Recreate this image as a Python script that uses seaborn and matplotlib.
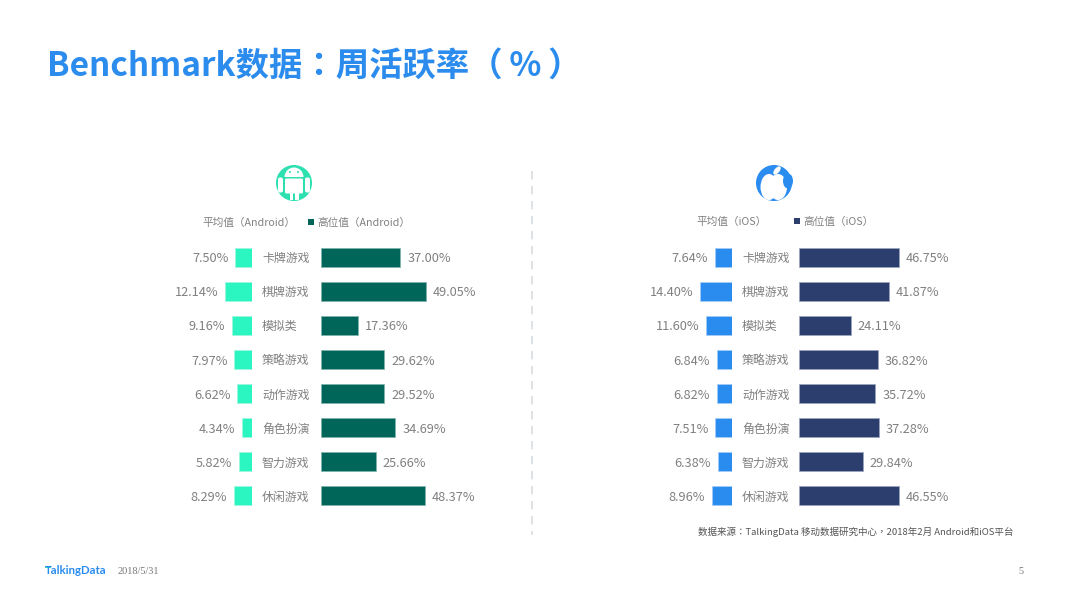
import matplotlib
matplotlib.use('Agg')
import matplotlib.pyplot as plt
from matplotlib.patches import Circle, Ellipse, Rectangle, FancyBboxPatch, Wedge
import pandas as pd
import seaborn as sns

sns.set_theme(style='white')
plt.rcParams['font.family'] = ['Noto Sans CJK SC', 'DejaVu Sans']
FONTE_TC = ['Noto Sans CJK TC', 'DejaVu Sans']

# data
categorias = ['卡牌游戏', '棋牌游戏', '模拟类', '策略游戏', '动作游戏', '角色扮演', '智力游戏', '休闲游戏']
android_media = [7.50, 12.14, 9.16, 7.97, 6.62, 4.34, 5.82, 8.29]
android_alto = [37.00, 49.05, 17.36, 29.62, 29.52, 34.69, 25.66, 48.37]
ios_media = [7.64, 14.40, 11.60, 6.84, 6.82, 7.51, 6.38, 8.96]
ios_alto = [46.75, 41.87, 24.11, 36.82, 35.72, 37.28, 29.84, 46.55]

W, H = 1066, 599
ESCALA_ALTO = 2.14  # px por ponto percentual
ESCALA_MEDIA = 2.22
CINZA = '#808080'
fig = plt.figure(figsize=(W / 100, H / 100), dpi=100, facecolor='white')

# camada de fundo em pixels, para textos soltos e icones
bg = fig.add_axes([0, 0, 1, 1])
bg.set_xlim(0, W)
bg.set_ylim(H, 0)
bg.axis('off')


def eixo(x_ini, x_fim, y_ini=240, y_fim=513):
    ax = fig.add_axes([x_ini / W, 1 - y_fim / H, (x_fim - x_ini) / W, (y_fim - y_ini) / H])
    ax.patch.set_alpha(0)
    return ax


def rotulos(ax, valores):
    textos = ax.bar_label(ax.containers[0], labels=[f'{v:.2f}%' for v in valores], padding=5,
                          fontsize=9.2, color=CINZA)
    # os numeros ficam um pouco abaixo do centro da barra
    for t in textos:
        t.xyann = (t.xyann[0], t.xyann[1] - 1.2)


def painel(media, alto, cor_media, cor_alto, borda_media, borda_alto, x_media, x_alto, pad_cat):
    # barras do valor medio, crescem para a esquerda
    ax1 = eixo(x_media - 60 * ESCALA_MEDIA, x_media)
    df1 = pd.DataFrame({'cat': categorias, 'valor': media})
    sns.barplot(data=df1, x='valor', y='cat', order=categorias, orient='h', color=cor_media,
                saturation=1, width=0.56, edgecolor=borda_media, linewidth=0.5, ax=ax1)
    ax1.set_xlim(60, 0)
    ax1.set_yticks([])
    rotulos(ax1, media)

    # barras do valor alto
    ax2 = eixo(x_alto, x_alto + 60 * ESCALA_ALTO)
    df2 = pd.DataFrame({'cat': categorias, 'valor': alto})
    sns.barplot(data=df2, x='valor', y='cat', order=categorias, orient='h', color=cor_alto,
                saturation=1, width=0.56, edgecolor=borda_alto, linewidth=0.5, ax=ax2)
    ax2.set_xlim(0, 60)
    ax2.set_yticks(range(len(categorias)))
    ax2.set_yticklabels(categorias, fontsize=8.6, color=CINZA, ha='left')
    ax2.tick_params(axis='y', length=0, pad=pad_cat * 0.72)
    rotulos(ax2, alto)

    for ax in (ax1, ax2):
        ax.set_xticks([])
        ax.set_xlabel('')
        ax.set_ylabel('')
        sns.despine(ax=ax, left=True, bottom=True)


painel(android_media, android_alto, '#2BF5C0', '#00665A', '#9ff5de', '#7fb3ac', 252, 321, 59)
painel(ios_media, ios_alto, '#2B8CF0', '#2C3E6E', '#a5cdf7', '#9aa5c0', 732, 799, 57)

# titulo
bg.text(47, 66, 'Benchmark数据：周活跃率（\u2009%\u2009）', fontsize=24, fontweight='bold',
        color='#2B8CEE', va='center', ha='left', family=FONTE_TC)

# legendas
bg.text(202, 223, '平均值（Android）', fontsize=7.7, color=CINZA, va='center')
bg.add_patch(Rectangle((308, 219), 6, 6, color='#00665A', lw=0))
bg.text(317, 223, '高位值（Android）', fontsize=7.7, color=CINZA, va='center')
bg.text(696, 222, '平均值（iOS）', fontsize=7.7, color=CINZA, va='center')
bg.add_patch(Rectangle((794, 218), 6, 6, color='#2C3E6E', lw=0))
bg.text(803, 222, '高位值（iOS）', fontsize=7.7, color=CINZA, va='center')

# divisor tracejado
bg.plot([532, 532], [171, 535], color='#d9dde0', lw=1.2, ls=(0, (5, 4)))

# icone Android
verde = '#2CE0B0'
bg.add_patch(Circle((294, 183), 18, color=verde, lw=0))
bg.add_patch(Wedge((294, 177), 9.5, 180, 360, color='white', lw=0))
bg.add_patch(FancyBboxPatch((285, 178.5), 18, 15, boxstyle='round,pad=0,rounding_size=1.5', color='white', lw=0))
bg.add_patch(FancyBboxPatch((278, 177.5), 5, 15, boxstyle='round,pad=0,rounding_size=2', color='white', lw=0))
bg.add_patch(FancyBboxPatch((305, 177.5), 5, 15, boxstyle='round,pad=0,rounding_size=2', color='white', lw=0))
bg.add_patch(Rectangle((289.5, 193), 3.5, 7, color='white', lw=0))
bg.add_patch(Rectangle((295, 193), 3.5, 7, color='white', lw=0))
bg.add_patch(Circle((290, 172), 1, color=verde, lw=0))
bg.add_patch(Circle((298, 172), 1, color=verde, lw=0))

# icone Apple
azul = '#2B8CF0'
bg.add_patch(Circle((774, 183), 18, color=azul, lw=0))
bg.add_patch(Ellipse((769, 187), 17, 26, color='white', lw=0))
bg.add_patch(Ellipse((778, 187), 18, 26, color='white', lw=0))
bg.add_patch(Ellipse((788, 181), 10, 15, color=azul, lw=0))
bg.add_patch(Ellipse((777, 170.5), 5, 10, angle=40, color='white', lw=0))

# rodape
bg.text(1013, 532, '数据来源：TalkingData 移动数据研究中心，2018年2月 Android和iOS平台', fontsize=6.85,
        color='#555555', va='center', ha='right', family=FONTE_TC)
bg.text(45, 571, 'TalkingData', fontsize=8.2, fontweight='bold', color='#2B8CF0', va='center',
        family=['Lato', 'DejaVu Sans'])
bg.add_patch(Rectangle((45, 566.5), 6, 1.4, color='#2CE0B0', lw=0))
bg.text(118, 572, '2018/5/31', fontsize=7.4, color='#777777', va='center', family='Liberation Serif')
bg.text(1018, 572, '5', fontsize=7.4, color='#777777', va='center', family='Liberation Serif')

fig.savefig('out.png', dpi=100)
